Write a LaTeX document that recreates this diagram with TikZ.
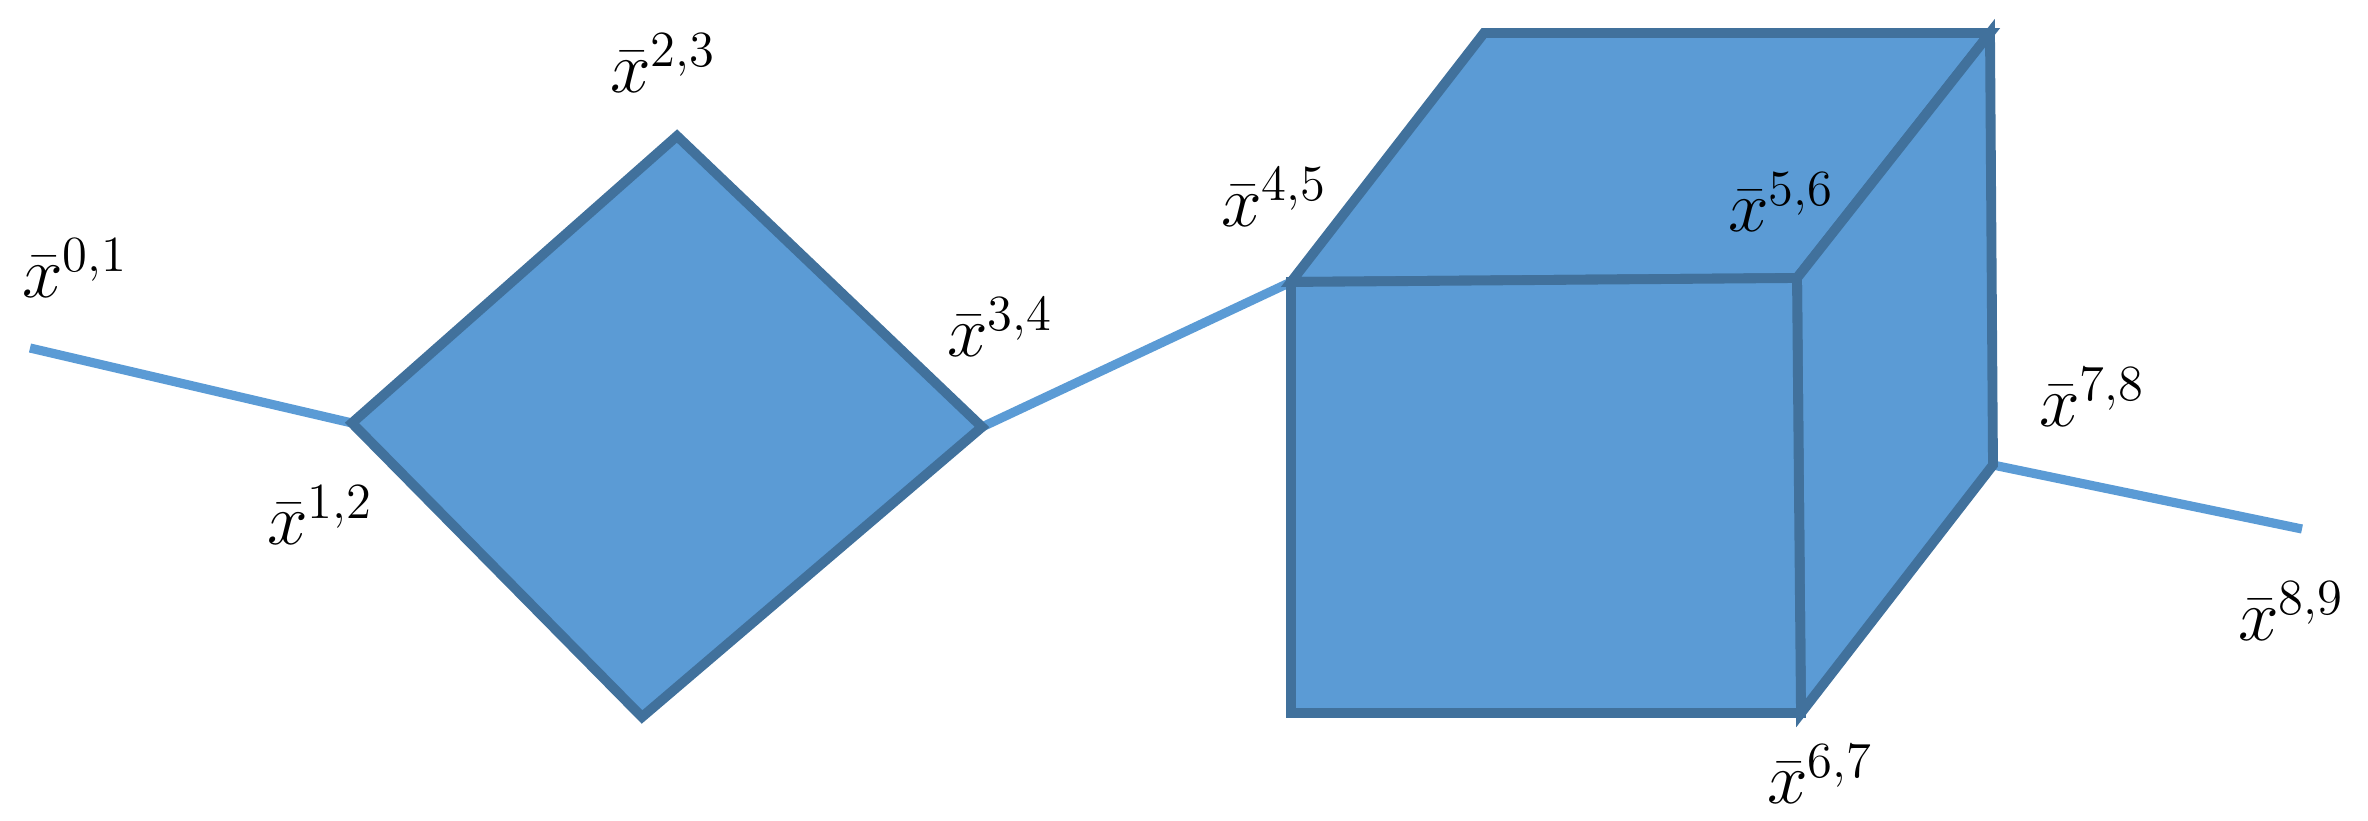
\documentclass[tikz,border=0pt]{standalone}
\usepackage{xcolor}
\definecolor{boxfill}{HTML}{5B9BD5}
\definecolor{boxedge}{HTML}{41719C}
\begin{document}
\begin{tikzpicture}[x=0.01cm,y=-0.01cm,
  wire/.style={draw=boxfill,line width=2.6pt},
  face/.style={fill=boxfill,draw=boxedge,line width=2.8pt,line join=miter},
  lbl/.style={font=\fontsize{22}{26}\selectfont,inner sep=0pt}]
\useasboundingbox (0,0) rectangle (2368,821);
% coordinates
\coordinate (p0) at (30,348);
\coordinate (dl) at (352,423);
\coordinate (dt) at (677,136);
\coordinate (dr) at (982,427);
\coordinate (db) at (642,717);
\coordinate (A) at (1291,282);
\coordinate (B) at (1797,278);
\coordinate (C) at (1801,713);
\coordinate (D) at (1291,713);
\coordinate (E) at (1484,33);
\coordinate (F) at (1990,33);
\coordinate (G) at (1993,465);
\coordinate (p9) at (2302,529);
% connectors
\draw[wire] (p0) -- (dl);
\draw[wire] (dr) -- (A);
\draw[wire] (G) -- (p9);
% diamond
\draw[face] (dl) -- (dt) -- (dr) -- (db) -- cycle;
% cube
\draw[face] (A) -- (E) -- (F) -- (B) -- cycle;
\draw[face] (B) -- (F) -- (G) -- (C) -- cycle;
\draw[face] (A) -- (B) -- (C) -- (D) -- cycle;
% labels
\node[lbl] (l01) at (75,268) {$\bar{x}^{0,1}$};
\node[lbl] (l12) at (320,515) {$\bar{x}^{1,2}$};
\node[lbl] (l23) at (663,63) {$\bar{x}^{2,3}$};
\node[lbl] (l34) at (1000,327) {$\bar{x}^{3,4}$};
\node[lbl] (l45) at (1274,197) {$\bar{x}^{4,5}$};
\node[lbl] (l56) at (1781,202) {$\bar{x}^{5,6}$};
\node[lbl] (l67) at (1820,774) {$\bar{x}^{6,7}$};
\node[lbl] (l78) at (2092,397) {$\bar{x}^{7,8}$};
\node[lbl] (l89) at (2291,611) {$\bar{x}^{8,9}$};
\end{tikzpicture}
\end{document}
